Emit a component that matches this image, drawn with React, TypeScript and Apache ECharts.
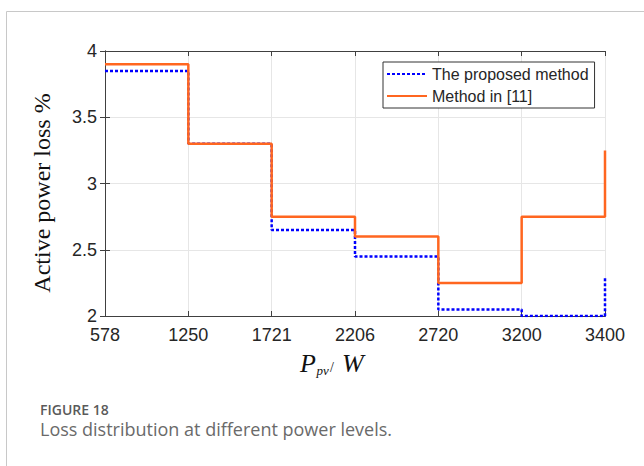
import React, { useEffect, useRef } from "react";
import * as echarts from "echarts";

const tickLabels = ["578", "1250", "1721", "2206", "2720", "3200", "3400"];
const proposedLoss = [3.85, 3.3, 2.65, 2.45, 2.05, 2.0, 2.3];
const method11Loss = [3.9, 3.3, 2.75, 2.6, 2.25, 2.75, 3.25];
const seriesNames = ["The proposed method", "Method in [11]"];

export default function App() {
  const ref = useRef<HTMLDivElement>(null);
  useEffect(() => {
    if (!ref.current) return;
    const chart = echarts.init(ref.current, null, { renderer: "svg" });
    const toPairs = (arr: number[]) => arr.map((v, i) => [i, v]);
    const axisColor = "#404040";
    const labelFont = { fontFamily: "'Liberation Sans', Arial, sans-serif", fontSize: 18, color: "#262626" };
    const serif = "'Liberation Serif', 'Times New Roman', serif";
    chart.setOption({
      animation: false,
      backgroundColor: "#ffffff",
      grid: { left: 105, right: 39, top: 51, bottom: 150, containLabel: false },
      legend: {
        orient: "vertical",
        left: 383,
        top: 62,
        padding: [4, 6, 4, 3],
        itemGap: 6,
        itemWidth: 40,
        itemHeight: 16,
        itemTextGap: 3,
        backgroundColor: "#ffffff",
        borderColor: "#333333",
        borderWidth: 1,
        borderRadius: 0,
        itemStyle: { opacity: 0 },
        textStyle: { fontFamily: "'Liberation Sans', Arial, sans-serif", fontSize: 16, color: "#262626", lineHeight: 16 },
        data: seriesNames,
      },
      xAxis: [
        {
          type: "value",
          min: 0,
          max: 6,
          interval: 1,
          axisLine: { show: true, lineStyle: { color: axisColor, width: 1 } },
          axisTick: { show: true, inside: true, length: 5, lineStyle: { color: axisColor } },
          splitLine: { show: true, lineStyle: { color: "#e6e6e6", width: 1 } },
          axisLabel: {
            ...labelFont,
            margin: 10,
            formatter: (v: number) => tickLabels[Math.round(v)] ?? "",
          },
        },
        {
          type: "value",
          position: "top",
          min: 0,
          max: 6,
          interval: 1,
          axisLine: { show: true, lineStyle: { color: axisColor, width: 1 } },
          axisTick: { show: true, inside: true, length: 5, lineStyle: { color: axisColor } },
          axisLabel: { show: false },
          splitLine: { show: false },
        },
      ],
      yAxis: [
        {
          type: "value",
          min: 2,
          max: 4,
          interval: 0.5,
          axisLine: { show: true, lineStyle: { color: axisColor, width: 1 } },
          axisTick: { show: true, inside: true, length: 5, lineStyle: { color: axisColor } },
          splitLine: { show: true, lineStyle: { color: "#e6e6e6", width: 1 } },
          axisLabel: { ...labelFont, margin: 8, formatter: (v: number) => String(v) },
          name: "Active power loss %",
          nameLocation: "middle",
          nameRotate: 90,
          nameGap: 51,
          nameTextStyle: { fontFamily: serif, fontSize: 24, color: "#111", padding: [0, 19, 0, 0] },
        },
        {
          type: "value",
          position: "right",
          min: 2,
          max: 4,
          interval: 0.5,
          axisLine: { show: true, lineStyle: { color: axisColor, width: 1 } },
          axisTick: { show: true, inside: true, length: 5, lineStyle: { color: axisColor } },
          axisLabel: { show: false },
          splitLine: { show: false },
        },
      ],
      series: [
        {
          name: seriesNames[0],
          type: "line",
          step: "end",
          symbol: "none",
          data: toPairs(proposedLoss),
          lineStyle: { color: "#0000ff", width: 2.5, type: [3, 2] },
          itemStyle: { color: "#0000ff" },
          z: 3,
        },
        {
          name: seriesNames[1],
          type: "line",
          step: "end",
          symbol: "none",
          data: toPairs(method11Loss),
          lineStyle: { color: "#ff6620", width: 2.5 },
          itemStyle: { color: "#ff6620" },
          z: 4,
        },
      ],
      graphic: [
        { type: "line", shape: { x1: 6.5, y1: 11.5, x2: 644, y2: 11.5 }, style: { stroke: "#c8c8c8", lineWidth: 1 } },
        { type: "line", shape: { x1: 6.5, y1: 11.5, x2: 6.5, y2: 466 }, style: { stroke: "#c8c8c8", lineWidth: 1 } },
        {
          type: "text",
          x: 300,
          y: 363,
          style: { text: "P", fontFamily: serif, fontStyle: "italic", fontSize: 26, fill: "#111", verticalAlign: "middle", align: "left" },
        },
        {
          type: "text",
          x: 316.5,
          y: 370,
          style: { text: "pv", fontFamily: serif, fontStyle: "italic", fontSize: 13, fill: "#111", verticalAlign: "middle", align: "left" },
        },
        {
          type: "text",
          x: 330,
          y: 367,
          style: { text: "/", fontFamily: serif, fontSize: 14, fill: "#111", verticalAlign: "middle", align: "left" },
        },
        {
          type: "text",
          x: 342,
          y: 363,
          style: { text: "W", fontFamily: serif, fontStyle: "italic", fontSize: 26, fill: "#111", verticalAlign: "middle", align: "left" },
        },
        {
          type: "text",
          left: 40,
          top: 402,
          style: { text: "FIGURE 18", fontFamily: "'Open Sans'", fontWeight: 600, fontSize: 14, fill: "#5a5a5a" },
        },
        {
          type: "text",
          left: 40,
          top: 420,
          style: { text: "Loss distribution at different power levels.", fontFamily: "'Open Sans'", fontSize: 18, fill: "#6a6a6a" },
        },
      ],
    });
    return () => chart.dispose();
  }, []);
  return (
    <div style={{ position: "fixed", left: 0, top: 0, width: 644, height: 466, background: "#fff" }}>
      <div ref={ref} style={{ width: 644, height: 466 }} />
    </div>
  );
}
